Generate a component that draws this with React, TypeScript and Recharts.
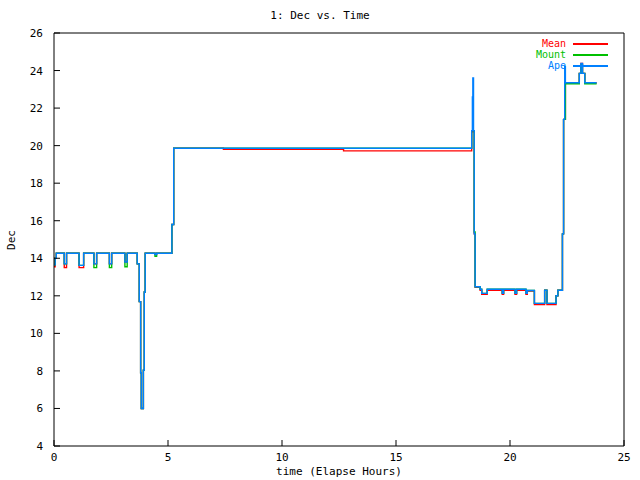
import { LineChart, Line, XAxis, YAxis } from "recharts";

type Pt = { t: number; v: number };

// step points: [elapsed hours, Dec]
const apeSteps: [number, number][] = [
  [0, 13.65], [0.05, 14.0], [0.1, 14.27],
  [0.45, 13.7], [0.55, 14.27],
  [1.1, 13.62], [1.3, 14.27],
  [1.75, 13.7], [1.87, 14.27],
  [2.43, 13.7], [2.53, 14.27],
  [3.11, 13.8], [3.21, 14.27],
  [3.65, 13.7], [3.74, 11.69], [3.8, 7.9], [3.83, 6.0], [3.92, 8.04], [3.96, 12.2], [4.0, 14.27],
  [4.43, 14.2], [4.5, 14.27],
  [5.17, 15.8], [5.25, 19.86],
  [18.32, 20.8], [18.35, 22.6], [18.37, 23.6], [18.4, 20.8], [18.43, 15.3], [18.47, 12.48],
  [18.69, 12.35], [18.76, 12.13], [19.0, 12.35], [19.66, 12.13], [19.72, 12.35],
  [20.22, 12.13], [20.29, 12.35], [20.7, 12.13], [20.76, 12.28], [21.07, 11.6],
  [21.52, 12.3], [21.62, 11.6], [22.02, 12.0], [22.1, 12.3],
  [22.3, 15.3], [22.35, 21.4], [22.4, 24.2], [22.43, 23.35],
  [23.04, 23.85], [23.11, 24.38], [23.18, 23.85], [23.28, 23.35], [23.8, 23.35],
];

const mountSteps: [number, number][] = [
  [0, 13.65], [0.05, 14.0], [0.1, 14.27],
  [0.45, 13.7], [0.55, 14.27],
  [1.1, 13.62], [1.3, 14.27],
  [1.75, 13.5], [1.87, 14.27],
  [2.43, 13.5], [2.53, 14.27],
  [3.11, 13.55], [3.21, 14.27],
  [3.65, 13.7], [3.74, 11.69], [3.8, 7.9], [3.83, 6.0], [3.92, 8.04], [3.96, 12.2], [4.0, 14.27],
  [4.43, 14.1], [4.5, 14.27],
  [5.17, 15.8], [5.25, 19.86],
  [18.32, 20.8], [18.35, 20.8], [18.4, 20.8], [18.43, 15.4], [18.47, 12.48],
  [18.69, 12.35], [18.76, 12.13], [19.0, 12.35], [19.66, 12.13], [19.72, 12.35],
  [20.22, 12.13], [20.29, 12.35], [20.7, 12.13], [20.76, 12.28], [21.07, 11.6],
  [21.52, 12.3], [21.62, 11.6], [22.02, 12.0], [22.1, 12.3],
  [22.3, 15.3], [22.35, 21.4], [22.43, 23.3],
  [23.04, 23.85], [23.11, 24.3], [23.18, 23.85], [23.28, 23.3], [23.8, 23.3],
];

const meanSteps: [number, number][] = [
  [0, 13.55], [0.05, 14.0], [0.1, 14.27],
  [0.45, 13.5], [0.55, 14.27],
  [1.1, 13.5], [1.3, 14.27],
  [1.75, 13.7], [1.87, 14.27],
  [2.43, 13.7], [2.53, 14.27],
  [3.11, 13.8], [3.21, 14.27],
  [3.65, 13.7], [3.74, 11.69], [3.8, 7.9], [3.83, 6.0], [3.92, 8.04], [3.96, 12.2], [4.0, 14.27],
  [4.43, 14.2], [4.5, 14.27],
  [5.17, 15.8], [5.25, 19.86],
  [7.43, 19.8], [12.7, 19.72],
  [18.32, 20.74], [18.43, 15.3], [18.47, 12.45],
  [18.69, 12.3], [18.76, 12.08], [19.0, 12.3], [19.66, 12.08], [19.72, 12.3],
  [20.22, 12.08], [20.29, 12.3], [20.7, 12.08], [20.76, 12.25], [21.07, 11.53],
  [21.52, 12.3], [21.62, 11.53], [22.02, 12.0], [22.1, 12.3],
  [22.3, 15.3], [22.35, 21.4], [22.43, 23.35],
  [23.04, 23.85], [23.11, 24.38], [23.18, 23.85], [23.28, 23.35], [23.8, 23.35],
];

const xTicks = [0, 5, 10, 15, 20, 25];
const yTicks = [4, 6, 8, 10, 12, 14, 16, 18, 20, 22, 24, 26];

const toPts = (s: [number, number][]): Pt[] => s.map(([t, v]) => ({ t, v }));

const series = [
  { name: "Mean", color: "#ff0000", data: toPts(meanSteps) },
  { name: "Mount", color: "#00c000", data: toPts(mountSteps) },
  { name: "Ape", color: "#0080ff", data: toPts(apeSteps) },
];

const FONT = "'DejaVu Sans Mono', monospace";
const FS = 11;

const BottomTick = ({ x, y, payload }: any) => (
  <g>
    <line x1={x} y1={y} x2={x} y2={y - 6} stroke="#000" />
    <text x={x} y={y + 15} textAnchor="middle" fontFamily={FONT} fontSize={FS} fill="#000">
      {payload.value}
    </text>
  </g>
);
const TopTick = ({ x, y }: any) => <line x1={x} y1={y} x2={x} y2={y + 6} stroke="#000" />;
const LeftTick = ({ x, y, payload }: any) => (
  <g>
    <line x1={x} y1={y} x2={x + 6} y2={y} stroke="#000" />
    <text x={x - 11} y={y + 4} textAnchor="end" fontFamily={FONT} fontSize={FS} fill="#000">
      {payload.value}
    </text>
  </g>
);
const RightTick = ({ x, y }: any) => <line x1={x} y1={y} x2={x - 6} y2={y} stroke="#000" />;

export default function App() {
  return (
    <div style={{ position: "absolute", left: 0, top: 0, width: 640, height: 480, background: "#fff", fontFamily: FONT, fontSize: FS }}>
      <LineChart width={640} height={480} margin={{ top: 0, right: 0, bottom: 0, left: 0 }}>
        <XAxis dataKey="t" type="number" domain={[0, 25]} ticks={xTicks} height={34}
          axisLine={{ stroke: "#000" }} tickLine={false} tickSize={0} tickMargin={0} tick={<BottomTick />} allowDataOverflow />
        <XAxis xAxisId="top" orientation="top" dataKey="t" type="number" domain={[0, 25]} ticks={xTicks} height={33}
          axisLine={{ stroke: "#000" }} tickLine={false} tickSize={0} tickMargin={0} tick={<TopTick />} />
        <YAxis type="number" domain={[4, 26]} ticks={yTicks} width={54}
          axisLine={{ stroke: "#000" }} tickLine={false} tickSize={0} tickMargin={0} tick={<LeftTick />} allowDataOverflow />
        <YAxis yAxisId="right" orientation="right" type="number" domain={[4, 26]} ticks={yTicks} width={16}
          axisLine={{ stroke: "#000" }} tickLine={false} tickSize={0} tickMargin={0} tick={<RightTick />} />
        {series.map((s) => (
          <Line key={s.name} data={s.data} dataKey="v" name={s.name} type="stepAfter" stroke={s.color}
            strokeWidth={1.4} dot={false} activeDot={false} isAnimationActive={false} />
        ))}
      </LineChart>
      <div style={{ position: "absolute", top: 9, left: 0, width: 640, textAlign: "center" }}>1: Dec vs. Time</div>
      <div style={{ position: "absolute", top: 465, left: 54, width: 570, textAlign: "center" }}>time (Elapse Hours)</div>
      <div style={{ position: "absolute", left: 11, top: 240, transform: "translate(-50%, -50%) rotate(-90deg)" }}>Dec</div>
      <div style={{ position: "absolute", top: 38, left: 400, width: 208 }}>
        {series.map((s) => (
          <div key={s.name} style={{ display: "flex", alignItems: "center", justifyContent: "flex-end", height: 11 }}>
            <span style={{ color: s.color, fontSize: 10, lineHeight: "10px" }}>{s.name}</span>
            <span style={{ display: "inline-block", width: 35, height: 2, background: s.color, marginLeft: 7 }} />
          </div>
        ))}
      </div>
    </div>
  );
}
